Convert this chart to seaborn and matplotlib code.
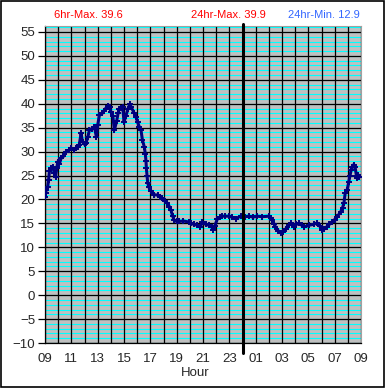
#Temperature trace, last 24 hours

import pandas as pd
import seaborn as sns
import matplotlib.pyplot as plt
from matplotlib.patches import Rectangle

# hours since 09:00 and temperature
hours = [0.00, 0.04, 0.10, 0.20, 0.27, 0.34, 0.45, 0.60, 0.70, 0.80, 0.90, 0.97,
         1.10, 1.22, 1.40, 1.60, 1.80, 2.00, 2.20, 2.36, 2.50, 2.60, 2.74, 2.85,
         3.00, 3.10, 3.25, 3.37, 3.55, 3.75, 3.90, 4.00, 4.13, 4.35, 4.60, 4.76,
         4.90, 5.00, 5.15, 5.27, 5.45, 5.55, 5.64, 5.80, 5.90, 6.00, 6.15, 6.30,
         6.45, 6.55, 6.78, 6.90, 7.03, 7.16, 7.29, 7.40, 7.54, 7.62, 7.67, 7.70,
         7.75, 7.80, 7.90, 8.05, 8.30, 8.55, 8.75, 8.92, 9.10, 9.30, 9.45, 9.56,
         9.70, 9.80, 10.00, 10.20, 10.50, 10.90, 11.07, 11.30, 11.57, 11.80, 11.95,
         12.20, 12.46, 12.65, 12.77, 12.90, 13.10, 13.30, 13.47, 13.70, 13.98,
         14.20, 14.50, 14.86, 15.20, 15.50, 15.80, 16.10, 16.50, 17.00, 17.15,
         17.26, 17.40, 17.50, 17.70, 17.90, 18.10, 18.30, 18.50, 18.65, 18.90,
         19.10, 19.30, 19.50, 19.70, 20.05, 20.40, 20.67, 20.85, 21.05, 21.20,
         21.40, 21.60, 21.80, 22.00, 22.20, 22.45, 22.60, 22.70, 22.80, 22.95,
         23.07, 23.15, 23.25, 23.35, 23.45, 23.55, 23.65, 23.70, 23.80, 23.85]
temps = [20.5, 21.3, 22.0, 22.6, 24.0, 26.0, 26.5, 26.8, 25.5, 24.7, 26.5, 27.9,
         27.5, 28.6, 29.0, 30.0, 30.3, 30.7, 30.4, 30.7, 31.0, 31.4, 33.8, 32.0,
         31.5, 31.7, 33.0, 34.5, 34.8, 35.2, 33.1, 35.5, 37.6, 38.0, 39.0, 39.5,
         39.4, 38.3, 37.5, 34.5, 36.5, 38.0, 39.0, 39.2, 39.4, 36.2, 37.5, 39.0,
         39.9, 39.3, 38.0, 37.3, 36.2, 35.2, 34.5, 32.4, 31.0, 29.5, 28.0, 26.5,
         25.0, 23.5, 22.5, 21.8, 21.0, 20.9, 20.5, 20.2, 19.7, 19.2, 18.5, 17.8,
         16.5, 15.7, 15.4, 15.4, 15.5, 15.3, 15.0, 14.8, 14.6, 14.3, 15.3,
         14.8, 14.6, 14.3, 13.7, 14.5, 16.0, 16.3, 16.5, 16.5, 16.5,
         16.3, 16.0, 16.5, 16.4, 16.5, 16.3, 16.5, 16.4, 16.5, 16.2,
         15.7, 14.9, 14.3, 13.5, 13.0, 13.3, 13.9, 14.6, 15.0, 14.3,
         14.8, 15.0, 14.6, 14.3, 14.6, 14.8, 15.1, 14.5, 13.6, 13.8,
         14.3, 14.8, 15.3, 15.8, 16.4, 17.4, 18.3, 19.2, 21.3, 22.0,
         23.7, 24.8, 26.1, 26.8, 27.3, 26.8, 25.0, 24.4, 25.1, 24.6]

hour_labels = ["09", "11", "13", "15", "17", "19", "21", "23",
               "01", "03", "05", "07", "09"]
stats = ["6hr-Max. 39.6", "24hr-Max. 39.9", "24hr-Min. 12.9"]

df = pd.DataFrame({"hour": hours, "temp": temps})

sns.set_style("white")
plt.rcParams['font.family'] = ['Liberation Sans', 'DejaVu Sans']

fig = plt.figure(figsize=(3.85, 3.88), dpi=100)
ax = fig.add_axes([45/385, 1-343/388, 316/385, 317/388])
ax.set_facecolor("#C0C0C0")

# grid: cyan every degree, black every 5 deg and every hour
for v in range(-10, 57):
    ax.axhline(v, color="#00FFFF", lw=0.8, zorder=1)
for v in range(-10, 56, 5):
    ax.axhline(v, color="black", lw=0.9, zorder=1.5)
for h in range(0, 25):
    ax.axvline(h, color="black", lw=0.9, zorder=1.5)

sns.lineplot(data=df, x="hour", y="temp", ax=ax, color="#000080",
             marker="+", markersize=5, markeredgewidth=1.4, linewidth=2.2,
             markeredgecolor="#000080", estimator=None, sort=False, zorder=3)

# midnight marker
ax.axvline(15, ymin=-0.032, ymax=1.007, color="black", lw=2.2,
           clip_on=False, zorder=4)

ax.set_xlim(0, 24)
ax.set_ylim(-10, 56.25)
ax.set_yticks(range(-10, 56, 5))
ax.set_xticks(range(0, 25, 2))
ax.set_xticklabels(hour_labels)
ax.tick_params(axis="y", length=5, width=0.9, color="black", labelsize=9.5,
               pad=2, left=True)
ax.tick_params(axis="x", length=0, labelsize=9.5, pad=7)
ax.set_xlabel("")
ax.set_ylabel("")
for s in ["left", "bottom"]:
    ax.spines[s].set_color("black")
    ax.spines[s].set_linewidth(0.9)
for s in ["top", "right"]:
    ax.spines[s].set_color("#A0A0A0")
    ax.spines[s].set_linewidth(0.8)

fig.text(195/385, 1-373/388, "Hour", ha="center", va="center", fontsize=9.5)
fig.text(88/385, 1-15/388, stats[0], ha="center", va="center",
         fontsize=8, color="#FF0000")
fig.text(228/385, 1-15/388, stats[1], ha="center", va="center",
         fontsize=8, color="#FF0000")
fig.text(324/385, 1-15/388, stats[2], ha="center", va="center",
         fontsize=8, color="#3366FF")

fig.patches.append(Rectangle((0.002, 0.002), 0.996, 0.995, transform=fig.transFigure,
                             fill=False, edgecolor="black", lw=1.2))

plt.savefig("out.png", dpi=100)
